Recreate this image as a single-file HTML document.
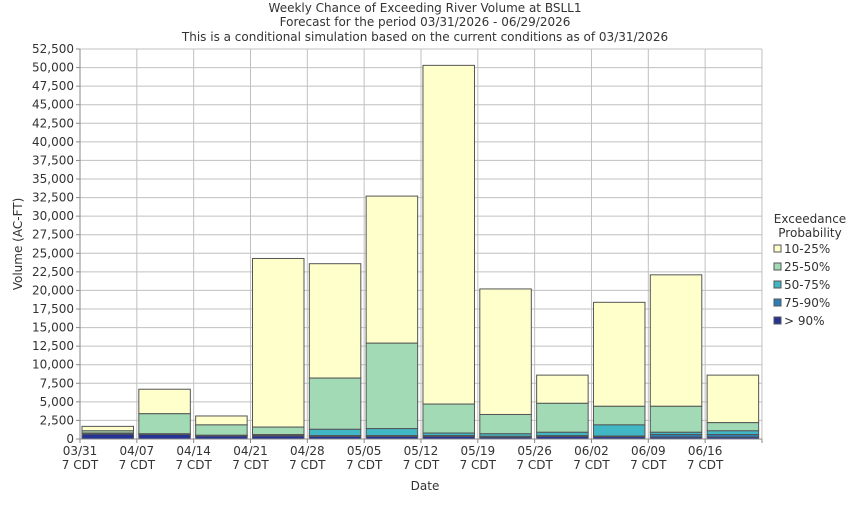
<!DOCTYPE html><html><head><style>body{margin:0;background:#fff}svg{font-family:"DejaVu Sans","Liberation Sans",sans-serif}</style></head><body>
<svg width="850" height="500" xmlns="http://www.w3.org/2000/svg" font-size="12">
<rect width="850" height="500" fill="#fff"/>
<g text-anchor="middle" fill="#333"><text x="425" y="12">Weekly Chance of Exceeding River Volume at BSLL1</text><text x="425" y="26">Forecast for the period 03/31/2026 - 06/29/2026</text><text x="425" y="41">This is a conditional simulation based on the current conditions as of 03/31/2026</text></g>
<g id="grid" stroke="#c0c0c0" stroke-width="1"></g>
<g id="bars" stroke="#555" stroke-width="1"></g>
<line x1="80" y1="49" x2="80" y2="439" stroke="#888"/><line x1="80" y1="439" x2="762" y2="439" stroke="#888"/>
<g id="yl" text-anchor="end" fill="#333"></g>
<g id="xl" text-anchor="middle" fill="#333"></g>
<text x="425" y="490" text-anchor="middle" fill="#333">Date</text>
<text transform="translate(22,244) rotate(-90)" text-anchor="middle" fill="#333">Volume (AC-FT)</text>
<g fill="#333"><text x="810" y="223" text-anchor="middle">Exceedance</text><text x="810" y="237" text-anchor="middle">Probability</text>
<rect x="774" y="245" width="7" height="7" fill="#ffffcc" stroke="#555"/><text x="784" y="253">10-25%</text>
<rect x="774" y="263" width="7" height="7" fill="#a1dab4" stroke="#555"/><text x="784" y="271">25-50%</text>
<rect x="774" y="281" width="7" height="7" fill="#41b6c4" stroke="#555"/><text x="784" y="289">50-75%</text>
<rect x="774" y="299" width="7" height="7" fill="#2c7fb8" stroke="#555"/><text x="784" y="307">75-90%</text>
<rect x="774" y="317" width="7" height="7" fill="#253494" stroke="#555"/><text x="784" y="325">&gt; 90%</text></g>
<script>
const ns="http://www.w3.org/2000/svg";function el(p,t,a,txt){const e=document.createElementNS(ns,t);for(const k in a)e.setAttribute(k,a[k]);if(txt)e.textContent=txt;document.getElementById(p).appendChild(e);}
const Y=v=>439-v/2500*18.571;
for(let i=0;i<=21;i++){const y=Y(i*2500);el('grid','line',{x1:80,x2:762,y1:y,y2:y});el('grid','line',{x1:76,x2:80,y1:y,y2:y,stroke:'#888'});el('yl','text',{x:74,y:y+4},(i*2500).toLocaleString('en-US'));}
const dates=['03/31','04/07','04/14','04/21','04/28','05/05','05/12','05/19','05/26','06/02','06/09','06/16'];
for(let i=0;i<=12;i++){const x=80+i*56.83;el('grid','line',{x1:x,x2:x,y1:49,y2:439});el('grid','line',{x1:x,x2:x,y1:439,y2:443,stroke:'#888'});if(i<12){el('xl','text',{x:x,y:455},dates[i]);el('xl','text',{x:x,y:469},'7 CDT');}}
// [total, 25-50 top, 50-75 top, 75-90 top, >90 top]
const d=[[1700,1100,800,700,650],[6700,3400,700,650,600],[3100,1900,500,450,400],[24300,1600,600,500,400],[23600,8200,1300,450,350],[32700,12900,1400,450,350],[50300,4700,800,450,350],[20200,3300,700,350,250],[8600,4800,900,450,350],[18400,4400,1900,400,300],[22100,4400,900,600,250],[8600,2200,1100,600,250]];
const c=['#ffffcc','#a1dab4','#41b6c4','#2c7fb8','#253494'];
d.forEach((b,i)=>{const x=82+i*56.83;for(let k=0;k<5;k++){const top=Y(b[k]),bot=k<4?Y(b[k+1]):439;el('bars','rect',{x:x,y:top,width:51.5,height:Math.max(bot-top,0.5),fill:c[k]});}});
</script>
</svg></body></html>
